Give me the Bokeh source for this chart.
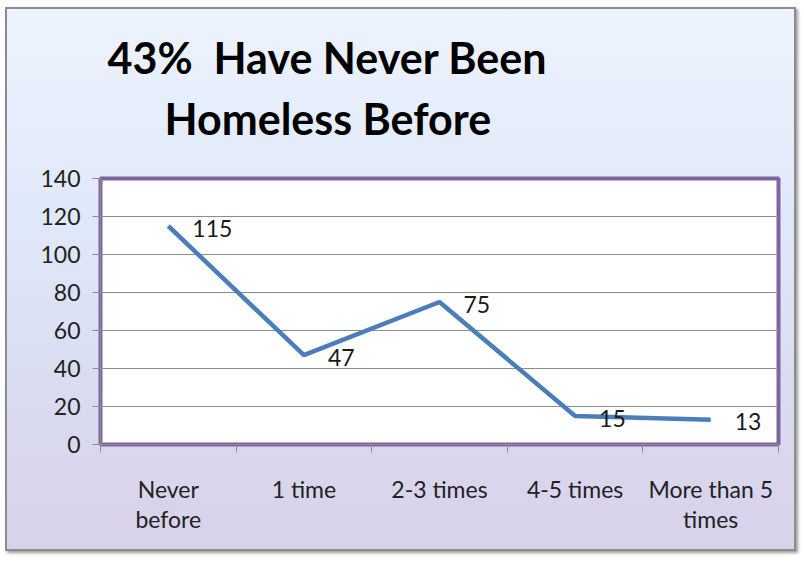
from bokeh.plotting import figure
from bokeh.models import FixedTicker, Title, Range1d, ColumnDataSource
from bokeh.core.properties import value
from bokeh.embed import file_html
from bokeh.resources import INLINE

# ---- data ----
categories = ["Never before", "1 time", "2-3 times", "4-5 times", "More than 5 times"]
tick_labels = ["Never\nbefore", "1 time", "2-3 times", "4-5 times", "More than 5\ntimes"]
counts = [115, 47, 75, 15, 13]
y_ticks = [0, 20, 40, 60, 80, 100, 120, 140]
title_lines = ["43%\u00a0 Have Never Been", "Homeless Before"]

FONT = "Lato"

xs = [i + 0.5 for i in range(len(categories))]
src = ColumnDataSource(dict(x=xs, y=counts, label=[str(c) for c in counts], cat=categories))

p = figure(width=791, height=544, output_backend="svg", toolbar_location=None,
           x_range=Range1d(0, len(categories)), y_range=Range1d(0, 140),
           min_border_left=93, min_border_right=20, min_border_top=169, min_border_bottom=109)

p.styles = {
    "margin": "7px 0 0 5px",
    "background": "linear-gradient(to bottom, #edf3fd 0%, #dfe8f9 40%, #d9dcf1 70%, #d8d1ea 100%)",
    "border": "2px solid #8c8c8c",
    "box-shadow": "2px 2px 3px #9a9a9a",
}
p.border_fill_alpha = 0
p.background_fill_color = "white"
p.outline_line_color = "#8064A2"
p.outline_line_width = 4

# grid
p.xgrid.grid_line_color = None
p.ygrid.grid_line_color = "#8c8c8c"
p.ygrid.grid_line_width = 1

# y axis
p.yaxis.ticker = FixedTicker(ticks=y_ticks)
p.yaxis.major_label_text_font = FONT
p.yaxis.major_label_text_font_size = "23px"
p.yaxis.major_label_text_color = "#222222"
p.yaxis.axis_line_color = "#8c8c8c"
p.yaxis.major_tick_line_color = "#8c8c8c"
p.yaxis.major_tick_out = 8
p.yaxis.major_tick_in = 0
p.yaxis.minor_tick_line_color = None
p.yaxis.major_label_standoff = 12

# x axis: labels at category centres, ticks at category boundaries
p.xaxis.ticker = FixedTicker(ticks=xs, minor_ticks=list(range(len(categories) + 1)))
p.xaxis.major_label_overrides = {x: t for x, t in zip(xs, tick_labels)}
p.xaxis.major_tick_line_color = None
p.xaxis.minor_tick_line_color = "#8c8c8c"
p.xaxis.minor_tick_out = 8
p.xaxis.minor_tick_in = 0
p.xaxis.axis_line_color = "#8c8c8c"
p.xaxis.major_label_text_font = FONT
p.xaxis.major_label_text_font_size = "23px"
p.xaxis.major_label_text_color = "#222222"
p.xaxis.major_label_text_line_height = 1.1
p.xaxis.major_label_standoff = 22

# series
p.line("x", "y", source=src, line_color="#4A7EBB", line_width=4.5)
p.text("x", "y", text="label", source=src, x_offset=24, y_offset=2,
       text_baseline="middle", text_align="left",
       text_font=value(FONT), text_font_size="23px", text_color="#1a1a1a")

# title: two lines above the frame, each shifted so that both are centred on one point
spacer = Title(text="\u00a0", standoff=29, text_font_size="1px")
t2 = Title(text=title_lines[1], align="left", offset=64, standoff=6,
           text_font=FONT, text_font_style="bold", text_font_size="43px", text_color="#000000")
t1 = Title(text=title_lines[0], align="left", offset=7, standoff=10,
           text_font=FONT, text_font_style="bold", text_font_size="43px", text_color="#000000")
p.add_layout(spacer, "above")
p.add_layout(t2, "above")
p.add_layout(t1, "above")

open("out.html", "w").write(file_html(p, INLINE))
